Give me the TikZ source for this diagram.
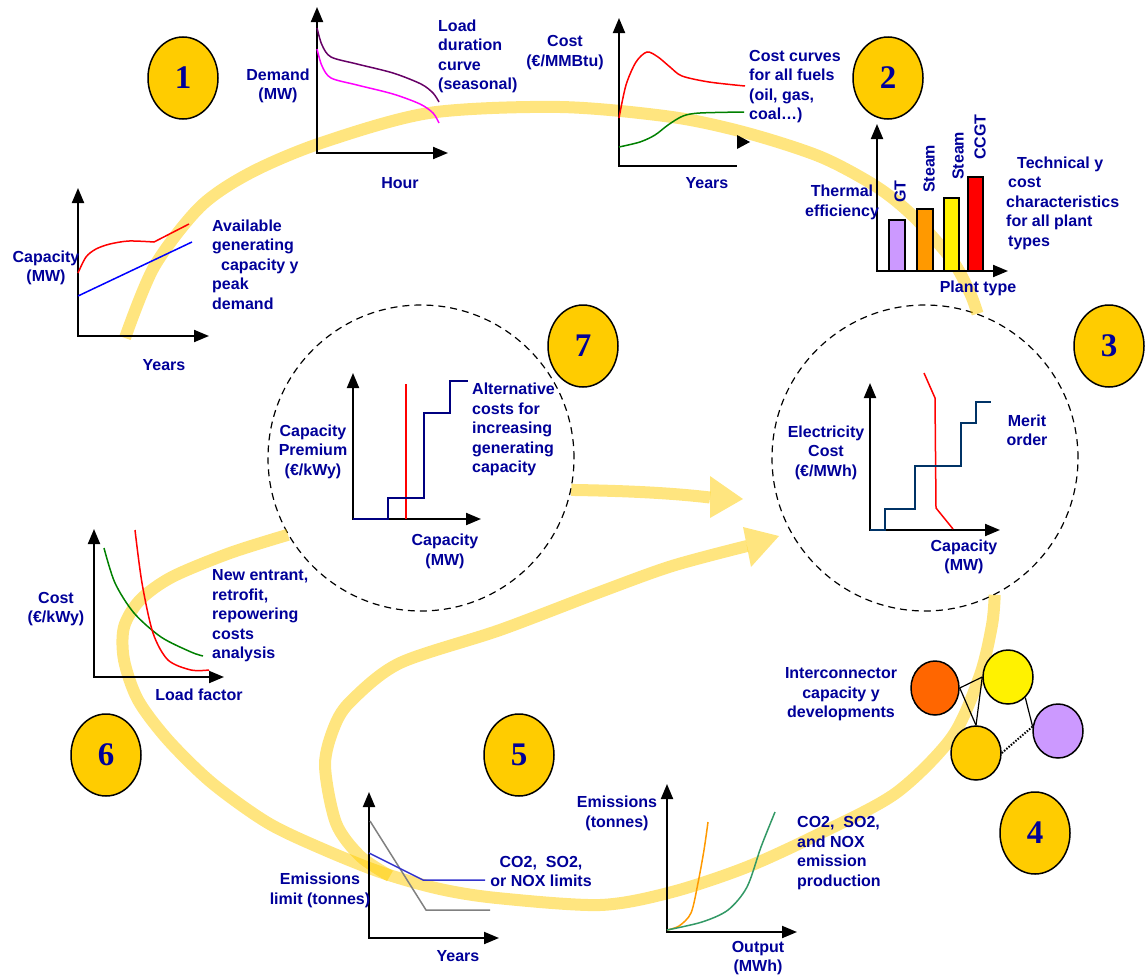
\documentclass[tikz,border=0pt]{standalone}
\usepackage{fontspec}
\setmainfont{Liberation Sans}
\newfontfamily\numfont{Liberation Serif}
\usetikzlibrary{arrows.meta,shapes.geometric}
\definecolor{navy}{RGB}{0,0,153}
\definecolor{gold}{RGB}{255,204,0}
\definecolor{bandc}{RGB}{255,204,0}
\definecolor{purp}{RGB}{102,0,102}
\definecolor{magen}{RGB}{255,0,255}
\definecolor{dkgreen}{RGB}{0,128,0}
\definecolor{teal2}{RGB}{51,153,102}
\definecolor{orng}{RGB}{255,153,0}
\definecolor{lav}{RGB}{204,153,255}
\definecolor{orred}{RGB}{255,102,0}
\definecolor{stepb}{RGB}{0,0,128}
\definecolor{stepc}{RGB}{0,51,102}
\definecolor{bluel}{RGB}{51,51,204}
\tikzset{
  lab/.style={font=\fontsize{16}{19.5}\selectfont\bfseries, text=navy, inner sep=0pt, align=center},
  labl/.style={lab, align=left, anchor=west},
  axes/.style={line width=2pt, {Triangle[width=12pt,length=15pt]}-{Triangle[width=12pt,length=15pt]}},
  curve/.style={line width=1.5pt},
  numbox/.style={ellipse, draw=black, line width=1.5pt, fill=gold, minimum width=70pt, minimum height=82pt, inner sep=0pt, font=\numfont\bfseries\fontsize{33}{33}\selectfont, text=navy},
  dashcircle/.style={circle, draw=black, line width=1.2pt, dash pattern=on 7pt off 5pt, minimum size=306pt, inner sep=0pt},
  bandline/.style={draw=bandc, line width=12pt, draw opacity=0.5},
  bandhead/.style={fill=bandc, fill opacity=0.5},
  bar/.style={draw=black, line width=1.5pt},
  netnode/.style={ellipse, draw=black, line width=1.5pt, minimum width=50pt, minimum height=54pt, inner sep=0pt},
  netlink/.style={line width=1.2pt},
}
\begin{document}
\begin{tikzpicture}[x=1pt,y=-1pt]
\useasboundingbox (0,0) rectangle (1145,977);

% dashed circles
\node[dashcircle] (c7) at (421,458) {};
\node[dashcircle] (c3) at (925,458) {};

% yellow flow bands
\draw[bandline] plot[smooth] coordinates {(125,338) (154,267) (200,207) (250,173) (321,143) (429,113) (560,107) (672,117) (747,133) (821,157) (877,187) (914,217) (952,260) (970,293) (c3.70)};
\draw[bandline] plot[smooth] coordinates {(c3.-63) (992,625) (980,675) (952,737) (896,793) (821,833) (747,867) (672,892) (600,905) (497,898) (440,889) (383,873) (325,850) (268,823) (212,783) (168,740) (138,700) (124,660) (124,627) (140,600) (172,577) (230,553) (c7.210)};
\draw[bandline] plot[smooth] coordinates {(390,876) (360,856) (336,823) (325,765) (335,725) (352,700) (400,663) (500,630) (600,592) (672,566) (747,546)};
\fill[bandhead] (743,527) -- (779,536) -- (751,567) -- cycle;
\coordinate (a1) at (710,497.5);
\draw[bandline] (c7.-12) .. controls (640,491) and (680,494) .. (a1);
\fill[bandhead] (710,476) -- (743,499) -- (710,518) -- cycle;

% chart 1a : capacity
\draw[axes] (78,188) -- (78,336) -- (209,336);
\draw[curve, red] plot[smooth] coordinates {(78,273) (86,257) (96,249) (110,244) (129,241) (154,242)} -- (189,224);
\draw[curve, blue] (78,296) -- (192,242);
\node[lab] (t1a) at (46,268) {Capacity\\(MW)};
\node[lab] (t1ay) at (164,365) {Years};
\node[labl] (t1ad) at (212,264.5) {Available\\generating\\\hspace*{9pt}capacity y\\peak\\demand};

% chart 1b : load duration
\draw[axes] (317,7) -- (317,153) -- (448,153);
\draw[curve, purp] plot[smooth] coordinates {(317,28) (322,45) (331,57) (357,64) (393,73) (421,84) (433,93) (439,102)};
\draw[curve, magen] plot[smooth] coordinates {(317,49) (322,66) (331,78) (357,85) (393,94) (420,104) (433,113) (439,123)};
\node[lab] (t1b) at (278,86) {Demand\\(MW)};
\node[lab] (t1bh) at (400,183) {Hour};
\node[labl] (t1bd) at (438,56.5) {Load\\duration\\curve\\(seasonal)};

% chart 2a : fuel costs
\draw[line width=2pt, {Triangle[width=12pt,length=15pt]}-] (619,18) -- (619,166) -- (737,166);
\fill (737,135) -- (750,142) -- (737,149) -- cycle;
\draw[curve, red] plot[smooth] coordinates {(619,118) (626,85) (636,62) (647,52) (658,57) (670,67) (682,76) (709,82) (745,86)};
\draw[curve, dkgreen] plot[smooth] coordinates {(619,147) (640,142) (655,135) (668,125) (683,116) (700,113) (744,112)};
\node[lab] (t2a) at (565,52.5) {Cost\\(€/MMBtu)};
\node[lab] (t2ay) at (707,183) {Years};
\node[labl] (t2ad) at (749,86.5) {Cost curves\\for all fuels\\(oil, gas,\\coal…)};

% chart 2b : bars
\draw[axes] (877,124) -- (877,271) -- (1008,271);
\draw[bar, fill=lav] (889,220) rectangle (905,271);
\draw[bar, fill=orng] (917,209) rectangle (933,271);
\draw[bar, fill=yellow] (944,198) rectangle (959,271);
\draw[bar, fill=red] (968,177) rectangle (983,271);
\node[lab, rotate=90, anchor=west] (bgt) at (900,203) {GT};
\node[lab, rotate=90, anchor=west] (bst1) at (929,193) {Steam};
\node[lab, rotate=90, anchor=west] (bst2) at (958,180) {Steam};
\node[lab, rotate=90, anchor=west] (bcc) at (980,160) {CCGT};
\node[lab] (t2b) at (842,202.5) {Thermal\\efficiency};
\node[lab] (t2bx) at (978,288) {Plant type};
\node[labl] (t2bd) at (1006,203) {\hspace*{11pt}Technical y\\\hspace*{2pt}cost\\characteristics\\for all plant\\\hspace*{2pt}types};

% chart 7 : capacity premium
\draw[axes] (353,373) -- (353,519) -- (481,519);
\draw[red, line width=1.2pt] (406,384) -- (406,519);
\draw[stepb, line width=2.2pt] (353,519) -- (388,519) -- (388,498) -- (424,498) -- (424,413) -- (450,413) -- (450,381) -- (468,381);
\node[lab] (t7) at (313,451.5) {Capacity\\Premium\\(€/kWy)};
\node[labl] (t7d) at (472,429.5) {Alternative\\costs for\\increasing\\generating\\capacity};
\node[lab] (t7x) at (445,551.5) {Capacity\\(MW)};

% chart 3 : merit order
\draw[axes] (870,383) -- (870,530) -- (1000,530);
\draw[red, line width=1.5pt] (924,373) -- (935,398) -- (936,508) -- (953,529);
\draw[stepc, line width=2pt] (870,530) -- (885,530) -- (885,509) -- (915,509) -- (915,466) -- (961,466) -- (961,423) -- (976,423) -- (976,402) -- (991,402);
\node[lab] (t3) at (826,452.5) {Electricity\\Cost\\(€/MWh)};
\node[lab] (t3d) at (1027,430.5) {Merit\\order};
\node[lab] (t3x) at (964,557) {Capacity\\(MW)};

% chart 6 : new entrant costs
\draw[axes] (94,529) -- (94,677) -- (224,677);
\draw[curve, dkgreen] plot[smooth] coordinates {(104,548) (115,583) (134,613) (161,637) (191,652) (203,656)};
\draw[curve, red] plot[smooth] coordinates {(135,530) (142,583) (153,633) (168,660) (191,670) (209,670)};
\node[lab] (t6) at (56,609) {Cost\\(€/kWy)};
\node[labl] (t6d) at (212,616) {New entrant,\\retrofit,\\repowering\\costs\\analysis};
\node[lab] (t6x) at (199,695) {Load factor};

% chart 5 : emission limits
\draw[axes] (369,792) -- (369,938) -- (499,938);
\draw[gray, line width=1.5pt] (370,821) -- (426,910) -- (490,910);
\draw[bluel, line width=1.5pt] (369,853) -- (423,880) -- (485,880);
\node[lab] (t5) at (320,890.5) {Emissions\\limit (tonnes)};
\node[lab] (t5d) at (541,871.5) {CO2,\ \ SO2,\\or NOX limits};
\node[lab] (t5x) at (458,956) {Years};

% chart 4 : emission production
\draw[axes] (667,784) -- (667,932) -- (797,932);
\draw[curve, orng] plot[smooth] coordinates {(667,930) (679,926) (691,913) (698,883) (704,850) (708,822)};
\draw[curve, teal2] plot[smooth] coordinates {(667,930) (702,922) (728,910) (747,887) (761,847) (775,812)};
\node[lab] (t4) at (617,813.5) {Emissions\\(tonnes)};
\node[lab] (t4x) at (758,958) {Output\\(MWh)};
\node[labl] (t4d) at (797,853) {CO2,\ \ SO2,\\and NOX\\emission\\production};

% interconnector network
\node[netnode, fill=orred, minimum width=48pt] (g1) at (935,688) {};
\node[netnode, fill=yellow] (g2) at (1008,677) {};
\node[netnode, fill=gold] (g3) at (976,753) {};
\node[netnode, fill=lav] (g4) at (1058,731) {};
\draw[netlink] (g1.east) -- (g2.west);
\draw[netlink] (g1.east) -- (g3.north);
\draw[netlink] (g3.north) -- (g2.west);
\draw[netlink] (g2.-50) -- (g4.170);
\draw[line width=2pt, dash pattern=on 1.5pt off 1.5pt] (g3.east) -- (g4.170);
\node[lab] (tnet) at (841,694.5) {Interconnector\\capacity y\\developments};

% numbered markers
\node[numbox] (num1) at (183,78) {1};
\node[numbox] (num2) at (888,78) {2};
\node[numbox] (num3) at (1109,346) {3};
\node[numbox] (num7) at (583,346) {7};
\node[numbox] (num6) at (106,755) {6};
\node[numbox] (num5) at (519,755) {5};
\node[numbox] (num4) at (1035,833) {4};
\end{tikzpicture}
\end{document}
